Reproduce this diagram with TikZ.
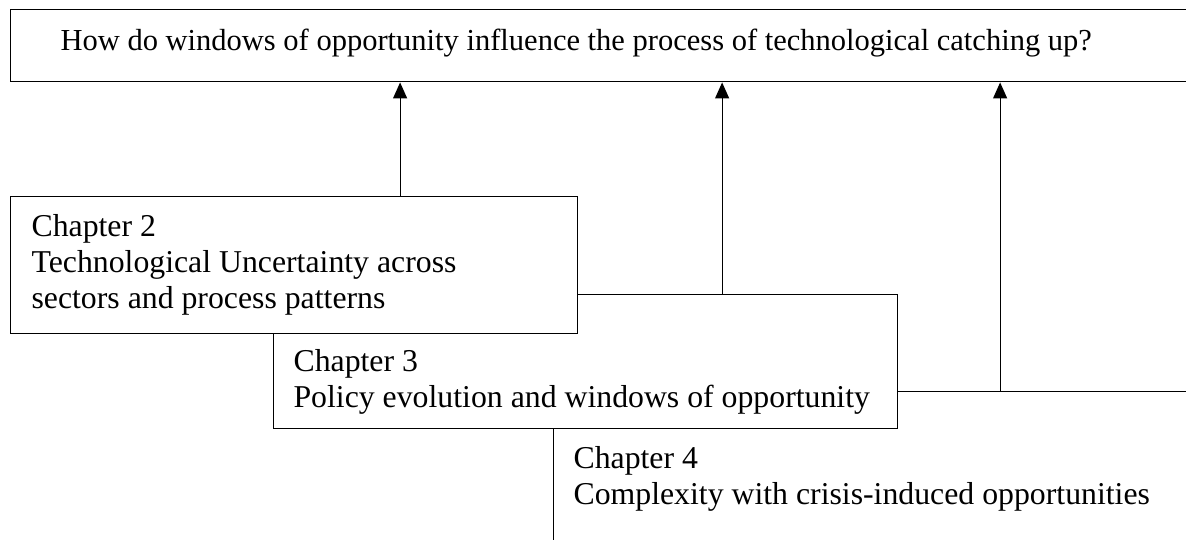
\documentclass[tikz,border=0pt]{standalone}
\usepackage{fontspec}
\setmainfont{Liberation Serif}
\usetikzlibrary{arrows.meta}

\begin{document}
\begin{tikzpicture}[x=0.025cm,y=-0.025cm,line width=0.8pt,>={Triangle[width=0.35cm,length=0.4cm]},
  box/.style={draw,fill=white,anchor=north west,inner sep=0pt},
  boxtext/.style={anchor=base west,align=left,inner sep=0pt,font=\fontsize{22.6}{25.6}\selectfont}]
\useasboundingbox (0,0) rectangle (1186,540);
\clip (0,0) rectangle (1186,540);
% research question
\node[box,line width=1pt,minimum width=29.75cm,minimum height=1.8cm] (question) at (10,9) {};
\node[boxtext,font=\fontsize{21.7}{25.6}\selectfont] (questiontext) at ([xshift=1.25cm,yshift=-1.025cm]question.north west)
  {How do windows of opportunity influence the process of technological catching up?};
% chapters, back to front
\node[box,minimum width=16.175cm,minimum height=4.225cm] (ch4) at (553,391) {};
\node[boxtext] (ch4text) at ([xshift=0.5cm,yshift=-2.825cm]ch4.north west)
  {Chapter 4\\Complexity with crisis-induced opportunities};
\node[box,minimum width=15.6cm,minimum height=3.35cm] (ch3) at (273,294) {};
\node[boxtext] (ch3text) at ([xshift=0.5cm,yshift=-2.825cm]ch3.north west)
  {Chapter 3\\Policy evolution and windows of opportunity};
\node[box,minimum width=14.175cm,minimum height=3.425cm] (ch2) at (10,196) {};
\node[boxtext] (ch2text) at ([xshift=0.525cm,yshift=-2.8cm]ch2.north west)
  {Chapter 2\\Technological Uncertainty across\\sectors and process patterns};
% links to the question
\draw[->] ([xshift=9.75cm]ch2.north west) coordinate (a2) -- (a2 |- question.south);
\draw[->] ([xshift=11.225cm]ch3.north west) coordinate (a3) -- (a3 |- question.south);
\draw[->] ([xshift=11.175cm]ch4.north west) coordinate (a4) -- (a4 |- question.south);
\end{tikzpicture}
\end{document}
